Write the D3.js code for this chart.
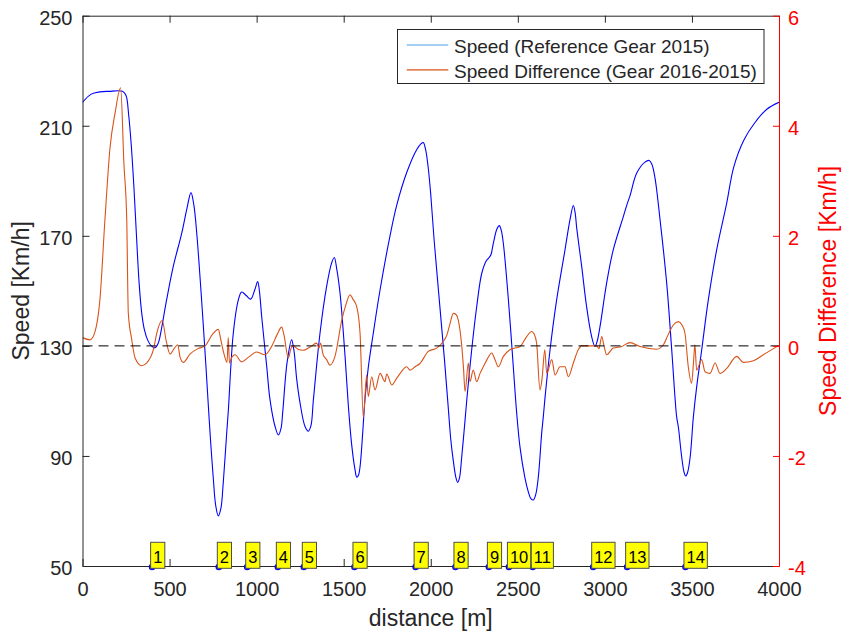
<!DOCTYPE html>
<html>
<head>
<meta charset="utf-8">
<title>speed trace</title>
<script src="https://cdn.jsdelivr.net/npm/d3@7"></script>
<style>
  body { margin: 0; background: #fff; }
  svg { font-family: "Liberation Sans", Arial, sans-serif; }
</style>
</head>
<body>
<script>
// reference lap speed, gear set 2015 [m, km/h]
var distance = [0, 50, 100, 150, 230, 250, 265, 280, 295, 310, 325, 340, 355, 375, 395, 416, 435, 445, 483, 521, 570, 600,
  623, 640, 656, 684, 709, 722, 735, 751, 765, 780, 795, 808, 828, 837, 866, 895, 914, 940, 966, 990,
  1006, 1016, 1029, 1058, 1077, 1106, 1125, 1140, 1150, 1175, 1201, 1215, 1230, 1250, 1278, 1297, 1312, 1326, 1364, 1402,
  1430, 1446, 1460, 1479, 1508, 1527, 1546, 1565, 1575, 1585, 1594, 1609, 1622, 1641, 1670, 1709, 1766, 1804, 1862, 1919,
  1945, 1957, 1970, 1985, 2000, 2020, 2050, 2080, 2100, 2115, 2130, 2145, 2155, 2165, 2178, 2197, 2207, 2235, 2264, 2293, 2320,
  2331, 2345, 2359, 2380, 2394, 2405, 2417, 2446, 2474, 2493, 2513, 2541, 2560, 2575, 2589, 2603, 2618, 2637, 2646, 2656,
  2685, 2723, 2771, 2800, 2819, 2830, 2838, 2867, 2895, 2924, 2943, 2955, 2972, 3010, 3048, 3106, 3125, 3144, 3183, 3230,
  3255, 3270, 3288, 3317, 3355, 3384, 3412, 3422, 3441, 3455, 3464, 3475, 3490, 3508, 3527, 3556, 3594, 3642, 3700, 3740,
  3800, 3860, 3930, 4000];
var speed = [218.5, 221.5, 222.3, 222.5, 222.5, 221, 214, 203, 188, 170, 153, 142, 136, 132, 130, 129.3, 131, 133.4, 146.7, 158.8, 171, 180,
  185.7, 181, 171, 146.7, 122.5, 109, 96, 82, 72, 68.2, 71, 80, 98.2, 106, 134.6, 146.7, 149.6, 148.3, 147, 150.5,
  153.4, 150, 140.7, 122.5, 110.4, 100.7, 97.6, 100, 106, 124, 132.2, 128, 118, 109, 100.7, 99, 101, 110.4, 134.6, 151.6,
  160, 162.1, 158, 149.2, 126.1, 108, 94, 85, 82.3, 83, 86.1, 98.2, 110.4, 122, 134.6, 150.4, 170, 181, 193, 201.3,
  203.5, 203.9, 201.5, 195, 185, 168, 146, 124, 108, 96, 88, 82, 80.4, 82, 89.7, 103, 110.4, 128.5, 144.3, 156.4, 161,
  161.8, 163, 167.2, 172.5, 173.7, 172, 167.2, 146.7, 122.5, 106, 93, 82, 77, 74.5, 74, 76, 82.5, 98.2, 104, 111,
  128.5, 146.7, 164.9, 176, 181, 178, 173, 158.8, 144.3, 133.4, 129.8, 131.5, 137, 152.8, 164.9, 177, 181, 184.5, 192.8, 196.8,
  197.4, 196, 191, 175.8, 152.8, 128.5, 104.3, 100.5, 89.7, 84, 82.7, 84, 89.7, 104, 115, 128.5, 146.7, 164.9, 182, 195,
  205, 211, 216, 218.5];

// speed difference, gear 2016 - 2015 [m, km/h]
var diffDistance = [0, 43, 72, 100, 129, 158, 187, 219, 238, 254, 263, 283, 302, 340, 369, 407, 428, 458, 480, 503,
  526, 547, 560, 579, 617, 663, 704, 744, 780, 795, 813, 830, 837, 844, 859, 876, 914, 956, 1000, 1025,
  1048, 1088, 1117, 1144, 1157, 1182, 1197, 1209, 1238, 1266, 1307, 1345, 1358, 1367, 1381, 1402, 1421, 1450, 1489, 1513,
  1536, 1553, 1575, 1594, 1613, 1632, 1641, 1661, 1680, 1709, 1737, 1747, 1776, 1804, 1829, 1862, 1881, 1910, 1938, 1986,
  2034, 2072, 2093, 2111, 2130, 2145, 2158, 2178, 2188, 2197, 2216, 2225, 2244, 2264, 2283, 2302, 2323, 2350, 2369, 2388,
  2417, 2455, 2513, 2551, 2580, 2593, 2608, 2627, 2639, 2655, 2666, 2695, 2714, 2742, 2771, 2790, 2819, 2847, 2867, 2914,
  2953, 2966, 2982, 2995, 3010, 3048, 3097, 3144, 3202, 3298, 3336, 3363, 3393, 3422, 3443, 3460, 3479, 3498, 3509, 3517,
  3527, 3556, 3575, 3604, 3633, 3661, 3700, 3757, 3795, 3853, 3910, 3996];
var speedDiff = [0.15, 0.11, 0.26, 0.84, 2.3, 3.6, 4.23, 4.69, 3.3, 2.3, 0.6, 0.11, -0.22, -0.36, -0.31, -0.07, 0.25, 0.46, 0.1, -0.15,
  -0.05, 0.02, -0.2, -0.3, -0.15, -0.05, 0, 0.2, 0.3, 0.1, -0.15, -0.3, 0.15, -0.31, -0.2, -0.16, -0.29, -0.2, -0.11, -0.14,
  -0.16, 0, 0.2, 0.34, 0.2, -0.22, -0.05, 0, -0.06, -0.08, -0.02, 0.05, -0.04, 0.05, -0.15, -0.25, -0.35, -0.19, 0.47, 0.75,
  0.93, 0.85, 0.71, 0.23, -1.3, -0.53, -0.92, -0.56, -0.8, -0.5, -0.65, -0.51, -0.71, -0.59, -0.48, -0.38, -0.44, -0.38, -0.32, -0.1,
  -0.04, 0.08, 0.2, 0.41, 0.59, 0.57, 0.47, 0, -0.4, -0.83, -0.31, -0.65, -0.44, -0.65, -0.5, -0.38, -0.25, -0.13, -0.25, -0.38,
  -0.19, -0.07, -0.01, 0.17, 0.26, 0.22, 0.05, -0.8, -0.6, -0.07, -0.5, -0.25, -0.53, -0.38, -0.38, -0.56, -0.31, -0.07, 0, 0,
  0, -0.05, 0.17, 0, -0.16, -0.04, -0.01, 0.06, -0.01, -0.06, 0.02, 0.2, 0.38, 0.44, 0.38, 0.23, -0.38, -0.68, -0.3, 0.02,
  -0.44, -0.25, -0.47, -0.5, -0.31, -0.5, -0.41, -0.19, -0.3, -0.27, -0.16, 0];

// corner markers
var cornerNames = ["1", "2", "3", "4", "5", "6", "7", "8", "9", "10", "11", "12", "13", "14"];
var cornerDistance = [397, 780, 943, 1119, 1268, 1559, 1910, 2139, 2331, 2446, 2583, 2930, 3125, 3460];

var xTicks = [0, 500, 1000, 1500, 2000, 2500, 3000, 3500, 4000];
var speedTicks = [50, 90, 130, 170, 210, 250];
var diffTicks = [-4, -2, 0, 2, 4, 6];
var legendNames = ["Speed (Reference Gear 2015)", "Speed Difference (Gear 2016-2015)"];

var width = 843, height = 636;
var pl = 82.5, pr = 779, pt = 15.7, pb = 566;
var dark = "#262626";

var x = d3.scaleLinear().domain([0, 4000]).range([pl, pr]);
var yL = d3.scaleLinear().domain([50, 250]).range([pb, pt]);
var yR = d3.scaleLinear().domain([-4, 6]).range([pb, pt]);

var svg = d3.select("body").append("svg")
  .attr("width", width)
  .attr("height", height);

svg.append("clipPath").attr("id", "plot")
  .append("rect")
  .attr("x", pl).attr("y", pt)
  .attr("width", pr - pl).attr("height", pb - pt);

// lines
var plot = svg.append("g").attr("clip-path", "url(#plot)");

plot.append("path")
  .datum(d3.zip(distance, speed))
  .attr("fill", "none")
  .attr("stroke", "#0000ff")
  .attr("stroke-width", 1.1)
  .attr("d", d3.line().x(d => x(d[0])).y(d => yL(d[1])).curve(d3.curveCatmullRom.alpha(0.5)));

plot.append("path")
  .datum(d3.zip(diffDistance, speedDiff))
  .attr("fill", "none")
  .attr("stroke", "#D95319")
  .attr("stroke-width", 1.1)
  .attr("d", d3.line().x(d => x(d[0])).y(d => yR(d[1])).curve(d3.curveMonotoneX));

// zero line
svg.append("line")
  .attr("x1", pl).attr("x2", pr)
  .attr("y1", yR(0)).attr("y2", yR(0))
  .attr("stroke", "#000")
  .attr("stroke-dasharray", "10,6");

// axes
function style(g, color, size) {
  g.select(".domain").attr("stroke", color);
  g.selectAll(".tick line").attr("stroke", color);
  g.selectAll(".tick text").attr("fill", color).attr("font-size", size);
  g.attr("font-family", null);
}

svg.append("g")
  .attr("transform", `translate(0,${pt})`)
  .call(d3.axisTop(x).tickValues(xTicks).tickSize(-7).tickSizeOuter(0).tickFormat(""))
  .call(style, dark, 20);

svg.append("g")
  .attr("transform", `translate(0,${pb})`)
  .call(d3.axisBottom(x).tickValues(xTicks).tickSize(-7).tickSizeOuter(0).tickPadding(16).tickFormat(d => String(d)))
  .call(style, dark, 20);

svg.append("g")
  .attr("transform", `translate(${pl},0)`)
  .call(d3.axisLeft(yL).tickValues(speedTicks).tickSize(-7).tickSizeOuter(0).tickPadding(10).tickFormat(d => String(d)))
  .call(style, dark, 20)
  .selectAll(".tick text").attr("dy", "0.42em");

svg.append("g")
  .attr("transform", `translate(${pr},0)`)
  .call(d3.axisRight(yR).tickValues(diffTicks).tickSize(-6).tickSizeOuter(0).tickPadding(9).tickFormat(d => String(d)))
  .call(style, "#ff0000", 20)
  .selectAll(".tick text").attr("dy", "0.42em");

// axis labels
svg.append("text")
  .attr("x", (pl + pr) / 2).attr("y", 626)
  .attr("text-anchor", "middle")
  .attr("font-size", 23)
  .attr("fill", dark)
  .text("distance [m]");

svg.append("text")
  .attr("transform", `translate(28.5,${(pt + pb) / 2}) rotate(-90)`)
  .attr("text-anchor", "middle")
  .attr("font-size", 23)
  .attr("fill", dark)
  .text("Speed [Km/h]");

svg.append("text")
  .attr("transform", `translate(836,${(pt + pb) / 2}) rotate(-90)`)
  .attr("text-anchor", "middle")
  .attr("font-size", 23)
  .attr("fill", "#ff0000")
  .text("Speed Difference [Km/h]");

// corner markers
svg.append("g")
  .selectAll("circle")
  .data(cornerDistance)
  .join("circle")
  .attr("cx", d => x(d) + 0.5)
  .attr("cy", pb + 1)
  .attr("r", 3.3)
  .attr("fill", "#0000ff");

var labels = svg.append("g")
  .selectAll("g")
  .data(d3.zip(cornerDistance, cornerNames))
  .join("g")
  .attr("transform", d => `translate(${x(d[0])},0)`);

labels.append("text")
  .attr("x", 1.5)
  .attr("y", 563.3)
  .attr("font-size", 16.5)
  .attr("fill", "#000")
  .text(d => d[1]);

labels.insert("rect", "text")
  .attr("x", -1)
  .attr("y", 542.3)
  .attr("height", 26)
  .attr("width", function () { return this.parentNode.querySelector("text").getComputedTextLength() + 5; })
  .attr("fill", "#ffff00")
  .attr("stroke", "#4d4d4d")
  .attr("stroke-width", 1);

// legend
var legend = svg.append("g");
legend.append("rect")
  .attr("x", 397.5).attr("y", 29.5)
  .attr("width", 366.5).attr("height", 54)
  .attr("fill", "#fff")
  .attr("stroke", dark);

var legendColors = ["#4DA0E6", "#D95319"];
legendNames.forEach(function (name, i) {
  var cy = 45 + i * 24.8;
  legend.append("line")
    .attr("x1", 406.7).attr("x2", 448.3)
    .attr("y1", cy).attr("y2", cy)
    .attr("stroke", legendColors[i])
    .attr("stroke-width", 1.2);
  legend.append("text")
    .attr("x", 454)
    .attr("y", cy + 7.9)
    .attr("font-size", 19)
    .attr("fill", dark)
    .text(name);
});
</script>
</body>
</html>
